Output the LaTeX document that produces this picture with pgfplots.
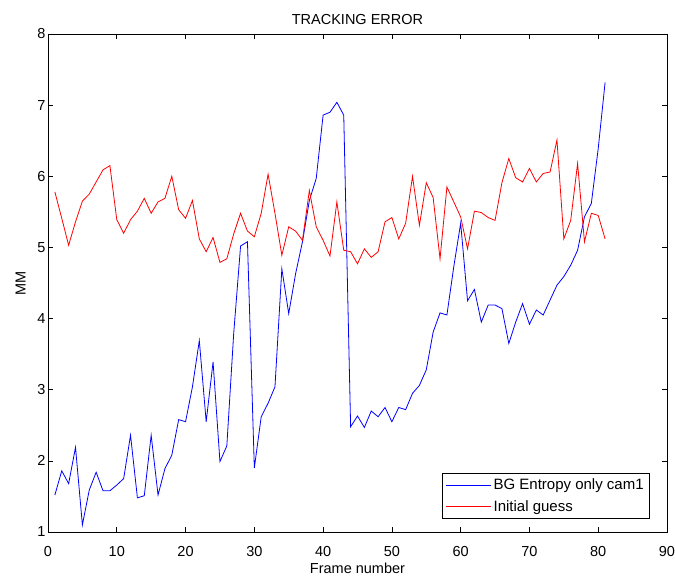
\documentclass[border=0pt]{standalone}
\usepackage{pgfplots}
\pgfplotsset{compat=1.18}
\usepackage{fontspec}
\setmainfont{Liberation Sans}

\begin{document}
\begin{tikzpicture}
  \useasboundingbox (-48pt,-44pt) rectangle (627pt,532pt);
  \begin{axis}[
    at={(0,0)}, anchor=south west,
    scale only axis,
    width=619pt, height=498pt,
    xmin=0, xmax=90, ymin=1, ymax=8,
    xtick={0,10,...,90},
    ytick={1,2,...,8},
    tick align=inside,
    major tick length=5pt,
    tick style={black, line width=0.6pt},
    axis line style={line width=0.6pt},
    font=\fontsize{14.5}{17}\selectfont,
    /pgf/number format/assume math mode=true,
    xticklabel style={yshift=-11pt},
    yticklabel style={xshift=1pt},
    title={TRACKING ERROR},
    title style={yshift=0pt},
    xlabel={Frame number},
    ylabel={MM},
    xlabel style={yshift=1pt},
    ylabel style={yshift=5pt},
    legend cell align=left,
    legend style={at={(rel axis cs:0.9725,0.026)}, anchor=south east,
      draw=black, line width=0.6pt, font=\fontsize{15}{17}\selectfont,
      row sep=5pt, inner xsep=4pt, inner ysep=4pt},
    legend image code/.code={\draw[#1] (0pt,0pt) -- (45pt,0pt);},
  ]
  \addplot[blue, line width=0.8pt] coordinates {
    (1,1.52) (2,1.86) (3,1.68) (4,2.19) (5,1.10) (6,1.59) (7,1.84) (8,1.58) (9,1.58) (10,1.66)
    (11,1.75) (12,2.36) (13,1.48) (14,1.51) (15,2.36) (16,1.52) (17,1.89) (18,2.08) (19,2.58) (20,2.55)
    (21,3.04) (22,3.69) (23,2.55) (24,3.39) (25,1.99) (26,2.21) (27,3.79) (28,5.02) (29,5.08) (30,1.90)
    (31,2.62) (32,2.81) (33,3.04) (34,4.70) (35,4.07) (36,4.63) (37,5.08) (38,5.66) (39,5.97) (40,6.86)
    (41,6.90) (42,7.04) (43,6.86) (44,2.48) (45,2.63) (46,2.47) (47,2.70) (48,2.62) (49,2.75) (50,2.55)
    (51,2.75) (52,2.72) (53,2.95) (54,3.06) (55,3.28) (56,3.81) (57,4.08) (58,4.05) (59,4.73) (60,5.34)
    (61,4.25) (62,4.41) (63,3.95) (64,4.19) (65,4.19) (66,4.14) (67,3.65) (68,3.95) (69,4.21) (70,3.92)
    (71,4.12) (72,4.05) (73,4.26) (74,4.47) (75,4.59) (76,4.75) (77,4.96) (78,5.43) (79,5.62) (80,6.39)
    (81,7.32)
  };
  \addlegendentry{BG Entropy only cam1}
  \addplot[red, line width=0.8pt] coordinates {
    (1,5.78) (2,5.41) (3,5.03) (4,5.36) (5,5.65) (6,5.75) (7,5.92) (8,6.09) (9,6.15) (10,5.39)
    (11,5.20) (12,5.39) (13,5.51) (14,5.69) (15,5.48) (16,5.64) (17,5.69) (18,6.00) (19,5.53) (20,5.41)
    (21,5.66) (22,5.12) (23,4.94) (24,5.14) (25,4.79) (26,4.84) (27,5.19) (28,5.48) (29,5.23) (30,5.15)
    (31,5.48) (32,6.03) (33,5.48) (34,4.89) (35,5.29) (36,5.23) (37,5.10) (38,5.80) (39,5.29) (40,5.10)
    (41,4.88) (42,5.64) (43,4.96) (44,4.94) (45,4.77) (46,4.98) (47,4.86) (48,4.94) (49,5.36) (50,5.42)
    (51,5.12) (52,5.34) (53,6.00) (54,5.31) (55,5.91) (56,5.70) (57,4.84) (58,5.85) (59,5.64) (60,5.43)
    (61,4.98) (62,5.51) (63,5.49) (64,5.42) (65,5.38) (66,5.91) (67,6.25) (68,5.98) (69,5.92) (70,6.11)
    (71,5.92) (72,6.04) (73,6.06) (74,6.51) (75,5.12) (76,5.38) (77,6.18) (78,5.08) (79,5.48) (80,5.45)
    (81,5.12)
  };
  \addlegendentry{Initial guess}
  \end{axis}
\end{tikzpicture}
\end{document}
